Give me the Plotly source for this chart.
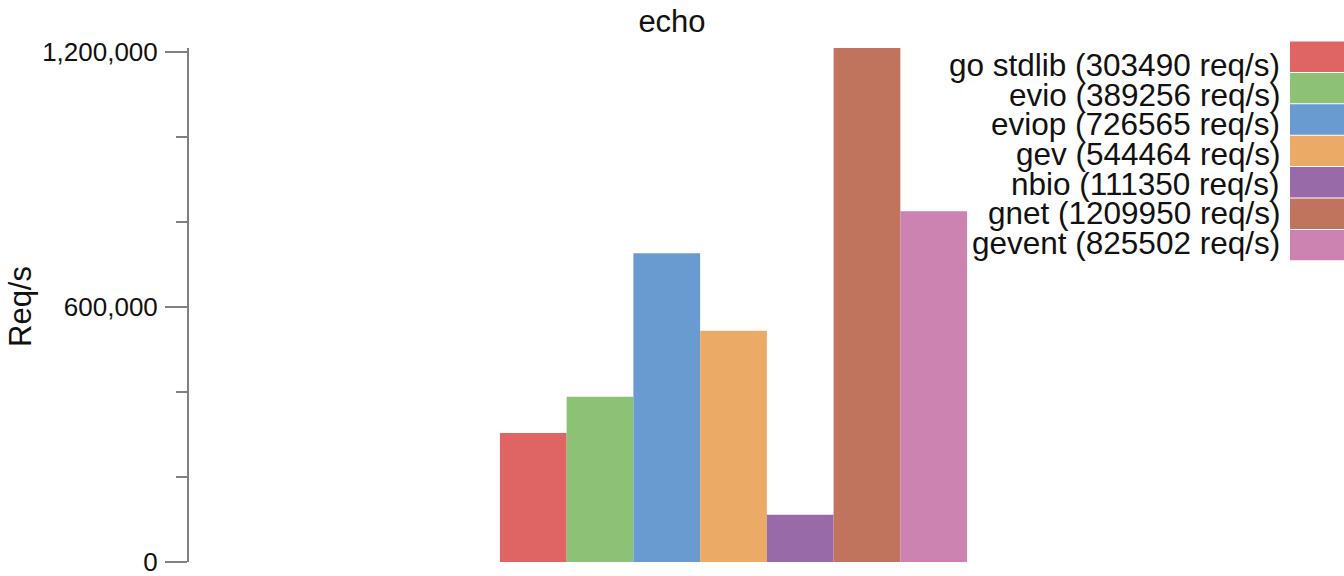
import plotly.graph_objects as go

names = ["go stdlib", "evio", "eviop", "gev", "nbio", "gnet", "gevent"]
values = [303490, 389256, 726565, 544464, 111350, 1209950, 825502]
colors = ["#DF6464", "#8DC176", "#6A9BD0", "#ECAA67", "#986BA8", "#C1745D", "#CC83B1"]
category = ["echo"]
tick_vals = [0, 600000, 1200000]
tick_text = ["0", "600,000", "1,200,000"]

W, H = 1344, 576
L, R, T, B = 189, 1344 - 1278, 48, 14
pw = W - L - R
ph = H - T - B

fig = go.Figure()
for n, v, c in zip(names, values, colors):
    fig.add_trace(go.Bar(x=category, y=[v], name=f"{n} ({v} req/s)",
                         marker=dict(color=c, line=dict(width=0)),
                         showlegend=False))

def px_x(p):
    return (p - L) / pw

def px_y(p):
    return 1 - (p - T) / ph

annotations = []
shapes = []
for i, (n, v, c) in enumerate(zip(names, values, colors)):
    yc_text = 65 + i * 29.7
    yc_box = 56.7 + i * 31.4
    annotations.append(dict(x=px_x(1282), y=px_y(yc_text), xref="paper", yref="paper",
                            xanchor="right", yanchor="middle", showarrow=False,
                            text=f"{n} ({v} req/s)",
                            font=dict(size=31.5, color="#111111", family="Liberation Sans")))
    shapes.append(dict(type="rect", xref="paper", yref="paper",
                       x0=px_x(1290), x1=px_x(1360),
                       y0=px_y(yc_box - 15.2), y1=px_y(yc_box + 15.2),
                       fillcolor=c, line=dict(width=0)))

annotations.append(dict(x=px_x(20), y=px_y(307), xref="paper", yref="paper",
                        xanchor="center", yanchor="middle", showarrow=False,
                        text="Req/s", textangle=-90,
                        font=dict(size=31, color="#111111", family="Liberation Sans")))

fig.update_layout(
    width=W, height=H,
    margin=dict(l=L, r=R, t=T, b=B, pad=0, autoexpand=False),
    paper_bgcolor="white", plot_bgcolor="white",
    bargap=0.571, barmode="group",
    title=dict(text="echo", x=0.5, xanchor="center", xref="container",
               y=1 - 21 / H, yref="container", yanchor="middle",
               font=dict(size=31, color="#111111", family="Liberation Sans")),
    font=dict(family="Liberation Sans", color="#111111"),
    annotations=annotations,
    shapes=shapes,
    xaxis=dict(range=[-0.5, 0.5], showticklabels=False, showline=False,
               showgrid=False, zeroline=False, ticks="", automargin=False),
    yaxis=dict(range=[0, 1210000], tickvals=tick_vals, ticktext=tick_text,
               showgrid=False, zeroline=False, showline=True, automargin=False,
               ticklabeloverflow="allow", ticklabelstandoff=2,
               linecolor="#808080", linewidth=2,
               ticks="outside", ticklen=22, tickwidth=2, tickcolor="#808080",
               tickfont=dict(size=26, color="#111111", family="Liberation Sans"),
               minor=dict(dtick=200000, tick0=0, ticks="outside", ticklen=11,
                          tickwidth=2, tickcolor="#808080", showgrid=False)),
)

fig.write_html("out.html", config={"displayModeBar": False},
               post_script="document.body.style.margin='0';document.body.style.overflow='hidden';")
